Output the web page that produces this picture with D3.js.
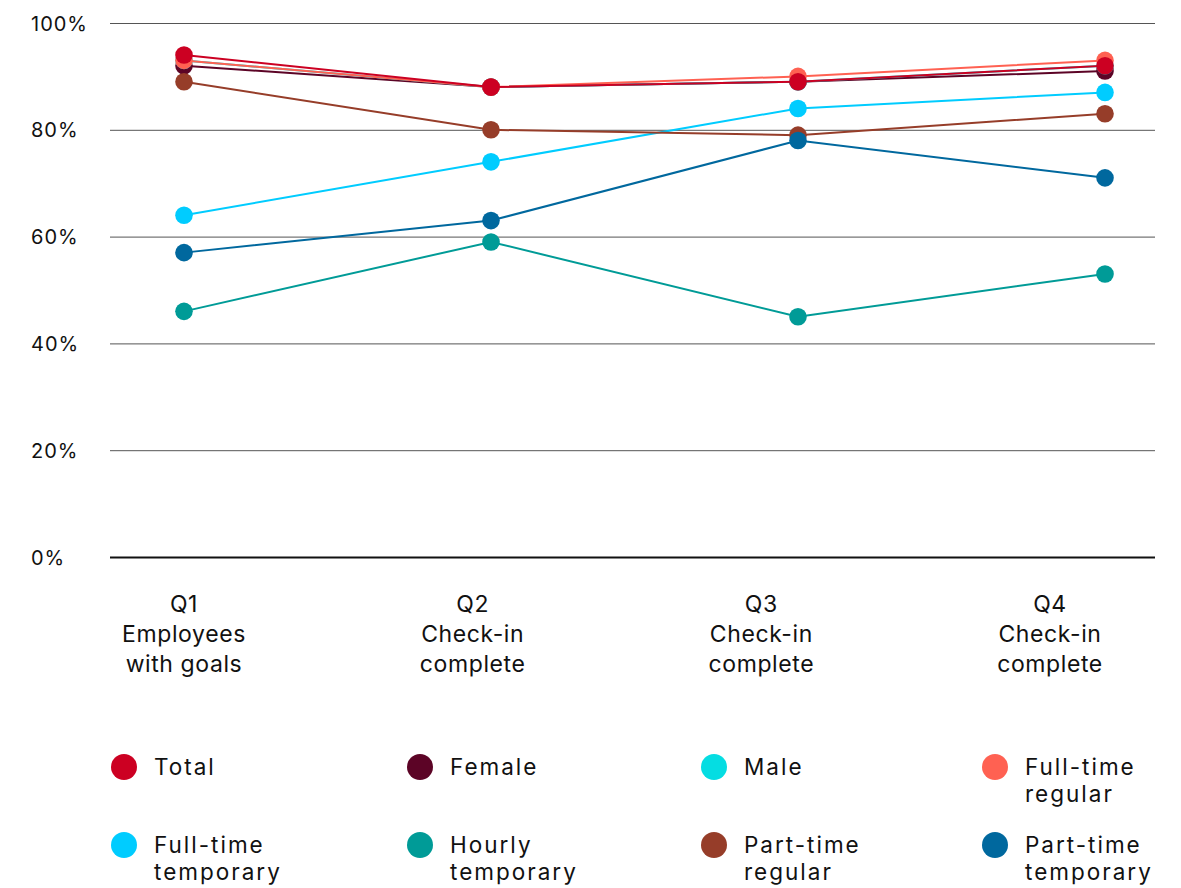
<!DOCTYPE html>
<html>
<head>
<meta charset="utf-8">
<script src="https://cdn.jsdelivr.net/npm/d3@7"></script>
<style>
  html, body { margin: 0; padding: 0; background: #fff; overflow: hidden; }
  svg { display: block; font-family: Inter, "Noto Sans", sans-serif; }
  .cat-label { font-size: 23px; fill: #111; letter-spacing: 0.6px; }
  .legend-label { font-size: 22.5px; fill: #111; letter-spacing: 2px; }
</style>
</head>
<body>
<svg id="chart" width="1181" height="888"></svg>
<script>
const quarters = ["Q1", "Q2", "Q3", "Q4"];
const quarterLabels = [
    ["Q1", "Employees", "with goals"],
    ["Q2", "Check-in", "complete"],
    ["Q3", "Check-in", "complete"],
    ["Q4", "Check-in", "complete"]
];
const yTicks = [0, 20, 40, 60, 80, 100];

const seriesNames = ["Total", "Female", "Male", "Full-time regular", "Full-time temporary", "Hourly temporary", "Part-time regular", "Part-time temporary"];
const legendLines = [["Total"], ["Female"], ["Male"], ["Full-time", "regular"], ["Full-time", "temporary"], ["Hourly", "temporary"], ["Part-time", "regular"], ["Part-time", "temporary"]];
const seriesColors = ["#cc0022", "#5c0426", "#05dde2", "#ff6152", "#00ccff", "#009b97", "#963d29", "#00689e"];

const total = [94, 88, 89, 92];
const female = [92, 88, 89, 91];
const male = [93, 88, 89, 92];
const fullTimeRegular = [93, 88, 90, 93];
const fullTimeTemporary = [64, 74, 84, 87];
const hourlyTemporary = [46, 59, 45, 53];
const partTimeRegular = [89, 80, 79, 83];
const partTimeTemporary = [57, 63, 78, 71];

const seriesValues = [total, female, male, fullTimeRegular, fullTimeTemporary, hourlyTemporary, partTimeRegular, partTimeTemporary];

// draw order: total ends up on top
const drawOrder = [1, 2, 3, 4, 5, 6, 7, 0];

const svg = d3.select("#chart");
const margin = { top: 23, right: 26, bottom: 331, left: 110 };
const width = 1181, height = 888;
const innerWidth = width - margin.left - margin.right;
const innerHeight = height - margin.top - margin.bottom;

const g = svg.append("g")
    .attr("transform", `translate(${margin.left},${margin.top})`);

const xScale = d3.scalePoint()
    .domain(quarters)
    .range([74, 995]);

// category labels sit on their own, slightly tighter spacing
const labelScale = d3.scalePoint()
    .domain(quarters)
    .range([74, 940]);

const yScale = d3.scaleLinear()
    .domain([0, 100])
    .range([innerHeight, 0]);

const yAxis = d3.axisLeft(yScale)
    .tickValues(yTicks)
    .tickSize(-innerWidth)
    .tickFormat(d => d + "%");

const yAxisG = g.append("g").call(yAxis)
    .attr("font-family", null)
    .attr("font-size", null);
yAxisG.selectAll(".domain").remove();
yAxisG.selectAll(".tick line")
    .attr("stroke", d => d === 0 ? "#111" : "#555")
    .attr("stroke-width", d => d === 0 ? 2 : 1);
yAxisG.selectAll(".tick text")
    .attr("x", -79)
    .attr("dy", "0.35em")
    .attr("text-anchor", "start")
    .attr("fill", "#111")
    .style("font-size", "20px")
    .style("letter-spacing", "1px");

// one text element per line
quarterLabels.forEach((lines, i) => {
    lines.forEach((l, j) => {
        g.append("text")
            .attr("class", "cat-label")
            .attr("text-anchor", "middle")
            .attr("x", labelScale(quarters[i]))
            .attr("y", innerHeight + 55 + j * 30)
            .text(l);
    });
});

const line = d3.line()
    .x((d, i) => xScale(quarters[i]))
    .y(d => yScale(d));

drawOrder.forEach(s => {
    const sg = g.append("g");
    sg.append("path")
        .datum(seriesValues[s])
        .attr("fill", "none")
        .attr("stroke", seriesColors[s])
        .attr("stroke-width", 2)
        .attr("d", line);
    sg.selectAll("circle")
        .data(seriesValues[s])
        .enter()
        .append("circle")
        .attr("cx", (d, i) => xScale(quarters[i]))
        .attr("cy", d => yScale(d))
        .attr("r", 8.8)
        .attr("fill", seriesColors[s]);
});

// legend
const legendX = [124, 420, 714, 995];
const legendY = [767, 845];
const legend = svg.append("g");
seriesNames.forEach((name, i) => {
    const col = i % 4, row = Math.floor(i / 4);
    const lg = legend.append("g")
        .attr("transform", `translate(${legendX[col]},${legendY[row]})`);
    lg.append("circle")
        .attr("r", 13)
        .attr("fill", seriesColors[i]);
    legendLines[i].forEach((l, j) => {
        lg.append("text")
            .attr("class", "legend-label")
            .attr("x", 30)
            .attr("y", 8 + j * 27)
            .text(l);
    });
});
</script>
</body>
</html>
